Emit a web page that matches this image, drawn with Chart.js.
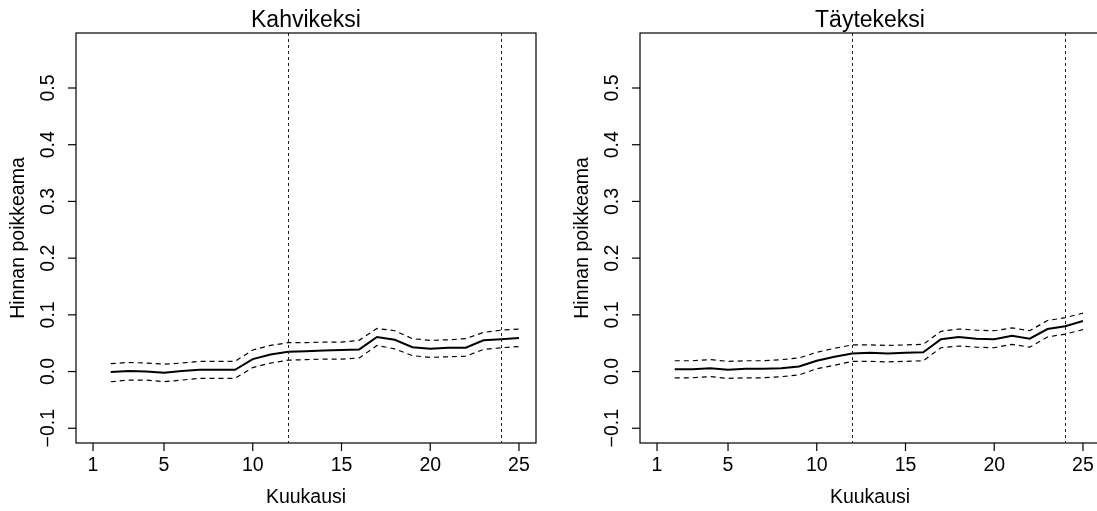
<!DOCTYPE html>
<html>
<head>
<meta charset="utf-8">
<script src="https://cdn.jsdelivr.net/npm/chart.js@4"></script>
<style>
  html, body { margin: 0; padding: 0; background: #fff; overflow: hidden; }
  .panel { position: absolute; top: 0; width: 548px; height: 511px; }
</style>
</head>
<body>
<div class="panel" style="left:0px"><canvas id="kahvi"></canvas></div>
<div class="panel" style="left:564px"><canvas id="tayte"></canvas></div>
<script>
// Kuukaudet 2..25
const kuukaudet = [2, 3, 4, 5, 6, 7, 8, 9, 10, 11, 12, 13, 14, 15, 16, 17, 18, 19, 20, 21, 22, 23, 24, 25];
const xTicks = [1, 5, 10, 15, 20, 25];
const yTicks = [-0.1, 0.0, 0.1, 0.2, 0.3, 0.4, 0.5];
const pystyviivat = [12, 24];

// Kahvikeksi: estimaatti ja luottamusvälit
const kahviEst = [-0.001, 0.001, 0.0, -0.002, 0.001, 0.003, 0.003, 0.003, 0.022, 0.030, 0.035, 0.036, 0.037, 0.038, 0.039, 0.061, 0.056, 0.043, 0.040, 0.042, 0.042, 0.055, 0.057, 0.059];
const kahviYla = [0.014, 0.016, 0.015, 0.013, 0.015, 0.018, 0.018, 0.018, 0.038, 0.046, 0.051, 0.051, 0.052, 0.052, 0.055, 0.076, 0.072, 0.058, 0.055, 0.056, 0.058, 0.069, 0.073, 0.075];
const kahviAla = [-0.018, -0.015, -0.015, -0.018, -0.015, -0.012, -0.012, -0.012, 0.007, 0.015, 0.020, 0.021, 0.022, 0.022, 0.024, 0.046, 0.040, 0.028, 0.025, 0.026, 0.027, 0.039, 0.042, 0.044];

// Täytekeksi
const tayteEst = [0.004, 0.004, 0.006, 0.003, 0.005, 0.005, 0.006, 0.009, 0.019, 0.026, 0.032, 0.033, 0.032, 0.033, 0.034, 0.057, 0.061, 0.058, 0.057, 0.063, 0.058, 0.075, 0.080, 0.089];
const tayteYla = [0.019, 0.019, 0.021, 0.018, 0.019, 0.019, 0.021, 0.024, 0.034, 0.041, 0.047, 0.047, 0.046, 0.047, 0.048, 0.071, 0.075, 0.073, 0.072, 0.077, 0.072, 0.090, 0.095, 0.103];
const tayteAla = [-0.011, -0.011, -0.009, -0.012, -0.011, -0.011, -0.009, -0.006, 0.005, 0.011, 0.018, 0.018, 0.017, 0.018, 0.019, 0.042, 0.045, 0.043, 0.042, 0.048, 0.043, 0.061, 0.066, 0.074];

const FONT = '"Liberation Sans", Arial, Helvetica, sans-serif';

function pisteet(arvot) {
    return kuukaudet.map((k, i) => ({ x: k, y: arvot[i] }));
}

// R-tyylinen kehys, akselit ja tekstit
const rAkselit = {
    id: 'rAkselit',
    afterDatasetsDraw(chart, args, opts) {
        const { ctx, chartArea: a, scales } = chart;
        const xs = scales.x, ys = scales.y;
        ctx.save();

        // pystysuorat katkoviivat
        ctx.strokeStyle = '#222';
        ctx.lineWidth = 1;
        ctx.setLineDash([3, 3]);
        pystyviivat.forEach(v => {
            const px = Math.round(xs.getPixelForValue(v)) + 0.5;
            ctx.beginPath();
            ctx.moveTo(px, a.top);
            ctx.lineTo(px, a.bottom);
            ctx.stroke();
        });
        ctx.setLineDash([]);

        // kehys
        ctx.strokeStyle = '#000';
        ctx.lineWidth = 1.2;
        ctx.strokeRect(a.left, a.top, a.right - a.left, a.bottom - a.top);

        // x-akselin tikit
        ctx.fillStyle = '#000';
        ctx.font = '19.5px ' + FONT;
        ctx.textAlign = 'center';
        ctx.textBaseline = 'middle';
        xTicks.forEach(t => {
            const px = xs.getPixelForValue(t);
            ctx.beginPath();
            ctx.moveTo(px, a.bottom);
            ctx.lineTo(px, a.bottom + 8);
            ctx.stroke();
            ctx.fillText(String(t), px, a.bottom + 23);
        });

        // y-akselin tikit
        yTicks.forEach(t => {
            const py = ys.getPixelForValue(t);
            ctx.beginPath();
            ctx.moveTo(a.left, py);
            ctx.lineTo(a.left - 8, py);
            ctx.stroke();
            ctx.save();
            ctx.translate(a.left - 27, py);
            ctx.rotate(-Math.PI / 2);
            ctx.fillText(t.toFixed(1).replace('-', '\u2212'), 0, 0);
            ctx.restore();
        });

        // akselien otsikot
        ctx.fillText('Kuukausi', (a.left + a.right) / 2, a.bottom + 55);
        ctx.save();
        ctx.translate(a.left - 57, (a.top + a.bottom) / 2);
        ctx.rotate(-Math.PI / 2);
        ctx.fillText('Hinnan poikkeama', 0, 0);
        ctx.restore();

        // pääotsikko
        ctx.font = '23px ' + FONT;
        ctx.fillText(opts.otsikko, (a.left + a.right) / 2, a.top - 12);

        ctx.restore();
    }
};

function piirra(id, otsikko, est, yla, ala) {
    const ctx = document.getElementById(id).getContext('2d');
    new Chart(ctx, {
        type: 'line',
        data: {
            datasets: [
                {
                    label: 'Estimaatti',
                    data: pisteet(est),
                    borderColor: '#000',
                    borderWidth: 2,
                    pointRadius: 0,
                    tension: 0,
                },
                {
                    label: 'Yläraja',
                    data: pisteet(yla),
                    borderColor: '#000',
                    borderWidth: 1.2,
                    borderDash: [5, 4],
                    pointRadius: 0,
                    tension: 0,
                },
                {
                    label: 'Alaraja',
                    data: pisteet(ala),
                    borderColor: '#000',
                    borderWidth: 1.2,
                    borderDash: [5, 4],
                    pointRadius: 0,
                    tension: 0,
                },
            ],
        },
        options: {
            responsive: true,
            maintainAspectRatio: false,
            animation: false,
            layout: { padding: { top: 33, right: 12, left: 0, bottom: 0 } },
            scales: {
                x: {
                    type: 'linear',
                    min: 0.04,
                    max: 25.96,
                    grid: { display: false },
                    border: { display: false },
                    ticks: { display: false },
                    afterFit: s => { s.height = 68; },
                },
                y: {
                    type: 'linear',
                    min: -0.126,
                    max: 0.597,
                    grid: { display: false },
                    border: { display: false },
                    ticks: { display: false },
                    afterFit: s => { s.width = 76; },
                },
            },
            plugins: {
                legend: { display: false },
                tooltip: { enabled: false },
                rAkselit: { otsikko: otsikko },
            },
        },
        plugins: [rAkselit],
    });
}

piirra('kahvi', 'Kahvikeksi', kahviEst, kahviYla, kahviAla);
piirra('tayte', 'Täytekeksi', tayteEst, tayteYla, tayteAla);
</script>
</body>
</html>
